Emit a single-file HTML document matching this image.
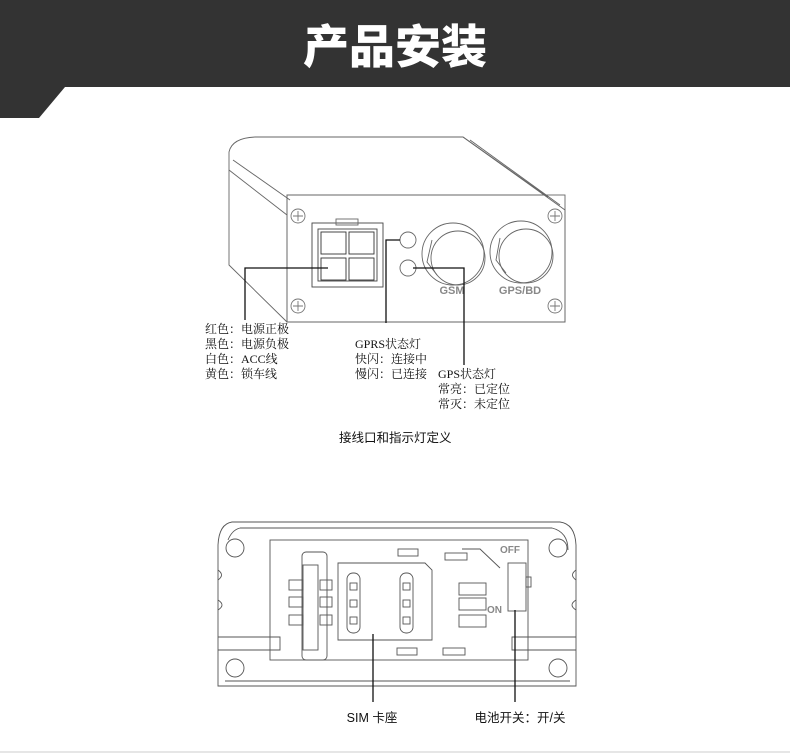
<!DOCTYPE html>
<html><head><meta charset="utf-8"><style>
html,body{margin:0;padding:0;background:#fff;width:790px;height:755px;overflow:hidden}
svg{display:block}
.t{font-family:"Liberation Serif","Noto Serif CJK SC",serif;font-size:12px;fill:#111}
.s{font-family:"Liberation Sans","Noto Sans CJK SC",sans-serif;font-size:12.5px;fill:#111}
</style></head><body>
<svg width="790" height="755" viewBox="0 0 790 755">
<path d="M0 0H790V87H65L39 118H0Z" fill="#333"/>
<text x="395" y="63" text-anchor="middle" font-family="'Noto Sans CJK SC',sans-serif" font-weight="900" font-size="46" fill="#fff">产品安装</text>

<g fill="none" stroke="#666" stroke-width="0.9">
<path d="M255 137H463L565 210V322H287V195H545"/>
<path d="M255 137Q232 138 229 152V265L287 322"/>
<path d="M233 160L290 200"/>
<path d="M229 170L287 215"/>
<path d="M463 137L548 197"/>
<path d="M470 140L560 205"/>
<rect x="287" y="195" width="278" height="127"/>
<rect x="312" y="223" width="71" height="64" stroke="#444"/>
<rect x="318" y="229" width="59" height="52" stroke="#444"/>
<rect x="336" y="219" width="22" height="6"/>
<rect x="321" y="232" width="25" height="22" stroke="#333"/>
<rect x="349" y="232" width="25" height="22" stroke="#333"/>
<rect x="321" y="258" width="25" height="22" stroke="#333"/>
<rect x="349" y="258" width="25" height="22" stroke="#333"/>
<circle cx="408" cy="240" r="8"/>
<circle cx="408" cy="268" r="8"/>
<circle cx="453" cy="254" r="31"/><circle cx="458" cy="258" r="27"/>
<path d="M432 240L427 262L437 275"/>
<circle cx="521" cy="252" r="31"/><circle cx="526" cy="256" r="27"/>
<path d="M500 238L496 260L506 273"/>
<g stroke="#777"><circle cx="298" cy="216" r="7"/><path d="M298 211V221M293 216H303"/>
<circle cx="555" cy="216" r="7"/><path d="M555 211V221M550 216H560"/>
<circle cx="298" cy="306" r="7"/><path d="M298 301V311M293 306H303"/>
<circle cx="555" cy="306" r="7"/><path d="M555 301V311M550 306H560"/></g>
</g>
<text x="452" y="294" text-anchor="middle" font-family="Liberation Sans" font-weight="bold" font-size="11" fill="#888">GSM</text>
<text x="520" y="294" text-anchor="middle" font-family="Liberation Sans" font-weight="bold" font-size="11" fill="#888">GPS/BD</text>
<g fill="none" stroke="#111" stroke-width="1.3">
<path d="M328 268H245V320"/>
<path d="M400 240H386V323"/>
<path d="M413 268H464V365"/>
</g>
<g class="t">
<text x="205" y="333">红色：电源正极</text>
<text x="205" y="348">黑色：电源负极</text>
<text x="205" y="363">白色：ACC线</text>
<text x="205" y="378">黄色：锁车线</text>
<text x="355" y="348">GPRS状态灯</text>
<text x="355" y="363">快闪：连接中</text>
<text x="355" y="378">慢闪：已连接</text>
<text x="438" y="378">GPS状态灯</text>
<text x="438" y="393">常亮：已定位</text>
<text x="438" y="408">常灭：未定位</text>
</g>
<text x="339" y="442" class="s">接线口和指示灯定义</text>

<g fill="none" stroke="#555" stroke-width="0.9">
<path d="M232 522H560Q575 524 576 545V686H218V545Q219 524 232 522Z"/>
<path d="M240 528H552Q568 532 568 550"/>
<path d="M228 540Q232 530 240 528"/>
<path d="M225 681H570"/>
<rect x="270" y="540" width="258" height="120"/>
<path d="M218 637H280V650H218M576 637H512V650H576"/>
<circle cx="235" cy="548" r="9"/><circle cx="558" cy="548" r="9"/>
<circle cx="235" cy="668" r="9"/><circle cx="558" cy="668" r="9"/>
<path d="M218 600Q226 605 218 610M576 600Q568 605 576 610M218 570Q225 575 218 580M576 570Q569 575 576 580"/>
<rect x="302" y="552" width="25" height="108" rx="4"/>
<rect x="303" y="565" width="15" height="85"/>
<rect x="289" y="580" width="14" height="10"/><rect x="289" y="597" width="14" height="10"/><rect x="289" y="615" width="14" height="10"/>
<rect x="320" y="580" width="12" height="10"/><rect x="320" y="597" width="12" height="10"/><rect x="320" y="615" width="12" height="10"/>
<path d="M338 563H425L432 570V640H338Z"/>
<rect x="347" y="573" width="13" height="60" rx="6"/>
<rect x="400" y="573" width="13" height="60" rx="6"/>
<rect x="350" y="583" width="7" height="7"/><rect x="350" y="600" width="7" height="7"/><rect x="350" y="617" width="7" height="7"/>
<rect x="403" y="583" width="7" height="7"/><rect x="403" y="600" width="7" height="7"/><rect x="403" y="617" width="7" height="7"/>
<rect x="398" y="549" width="20" height="7"/><rect x="445" y="553" width="22" height="7"/>
<rect x="397" y="648" width="20" height="7"/><rect x="443" y="648" width="22" height="7"/>
<rect x="459" y="583" width="27" height="12"/><rect x="459" y="598" width="27" height="12"/><rect x="459" y="615" width="27" height="12"/>
<path d="M462 549H480L500 568"/>
<rect x="508" y="563" width="18" height="48"/>
<rect x="526" y="577" width="5" height="10"/>
</g>
<text x="500" y="553" font-family="Liberation Sans" font-weight="bold" font-size="10" fill="#888">OFF</text>
<text x="487" y="613" font-family="Liberation Sans" font-weight="bold" font-size="10" fill="#888">ON</text>
<g stroke="#111" stroke-width="1.3">
<path d="M373 634V702"/><path d="M515 610V702"/>
</g>
<text x="372" y="722" text-anchor="middle" class="s">SIM 卡座</text>
<text x="520" y="722" text-anchor="middle" class="s">电池开关：开/关</text>
<path d="M0 752H790" stroke="#ccc"/>
</svg>
</body></html>
